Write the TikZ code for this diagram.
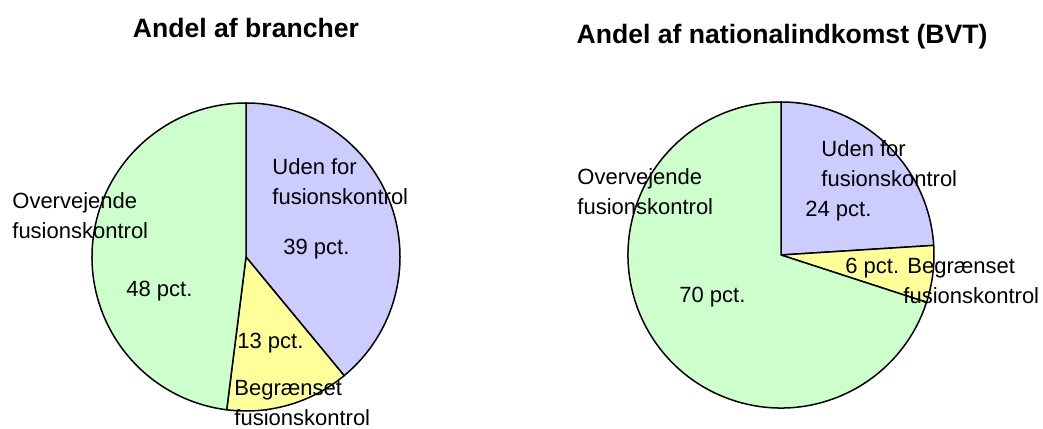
\documentclass[tikz,border=0pt]{standalone}
\usepackage{fontspec}
\setmainfont{Liberation Sans}
\usepackage{xcolor}
\usepackage{tikz}
\usetikzlibrary{positioning}
\definecolor{sliceGreen}{HTML}{CCFFCC}
\definecolor{sliceBlue}{HTML}{CCCCFF}
\definecolor{sliceYellow}{HTML}{FFFF99}
\definecolor{ink}{HTML}{000000}

\begin{document}
\begin{tikzpicture}[
  x=0.5pt, y=0.5pt,
  slice/.style={draw=ink, line width=0.75pt, line join=round},
  title/.style={font=\bfseries\fontsize{13.3}{16}\selectfont, inner sep=0pt},
  lbl/.style={font=\fontsize{11}{15}\selectfont, align=left, anchor=west, inner sep=0pt}
]
\useasboundingbox (0,0) rectangle (1043,428);
\coordinate (cA) at (246,171);
\coordinate (cB) at (781,173);

% left pie: share of industries
\filldraw[slice, fill=sliceBlue] (cA) -- ++(90:154) arc[start angle=90, end angle=-50.4, radius=77pt] -- cycle;
\filldraw[slice, fill=sliceYellow] (cA) -- ++(-50.4:154) arc[start angle=-50.4, end angle=-97.2, radius=77pt] -- cycle;
\filldraw[slice, fill=sliceGreen] (cA) -- ++(-97.2:154) arc[start angle=-97.2, end angle=-270, radius=77pt] -- cycle;

% right pie: share of national income
\filldraw[slice, fill=sliceBlue] (cB) -- ++(90:153) arc[start angle=90, end angle=3.6, radius=76.5pt] -- cycle;
\filldraw[slice, fill=sliceYellow] (cB) -- ++(3.6:153) arc[start angle=3.6, end angle=-18, radius=76.5pt] -- cycle;
\filldraw[slice, fill=sliceGreen] (cB) -- ++(-18:153) arc[start angle=-18, end angle=-270, radius=76.5pt] -- cycle;

\node[title] (titleA) at (246,400) {Andel af brancher};
\node[title] (titleB) at (782,391) {Andel af nationalindkomst (BVT)};

\node[lbl] (udenA) at (272,246) {Uden for\\fusionskontrol};
\node[lbl] (pctA1) at (283,179) {39 pct.};
\node[lbl] (overvA) at (12,212.5) {Overvejende\\fusionskontrol};
\node[lbl] (pctA2) at (126,137) {48 pct.};
\node[lbl] (pctA3) at (237,85) {13 pct.};
\node[lbl] (begrA) at (234,25) {Begrænset\\fusionskontrol};

\node[lbl] (udenB) at (821,264.5) {Uden for\\fusionskontrol};
\node[lbl] (pctB1) at (805,217) {24 pct.};
\node[lbl] (overvB) at (577,236) {Overvejende\\fusionskontrol};
\node[lbl] (pctB2) at (679,131) {70 pct.};
\node[lbl] (begrB) at (845,147) {6 pct. Begrænset\\\hspace*{29pt}fusionskontrol};
\end{tikzpicture}
\end{document}
